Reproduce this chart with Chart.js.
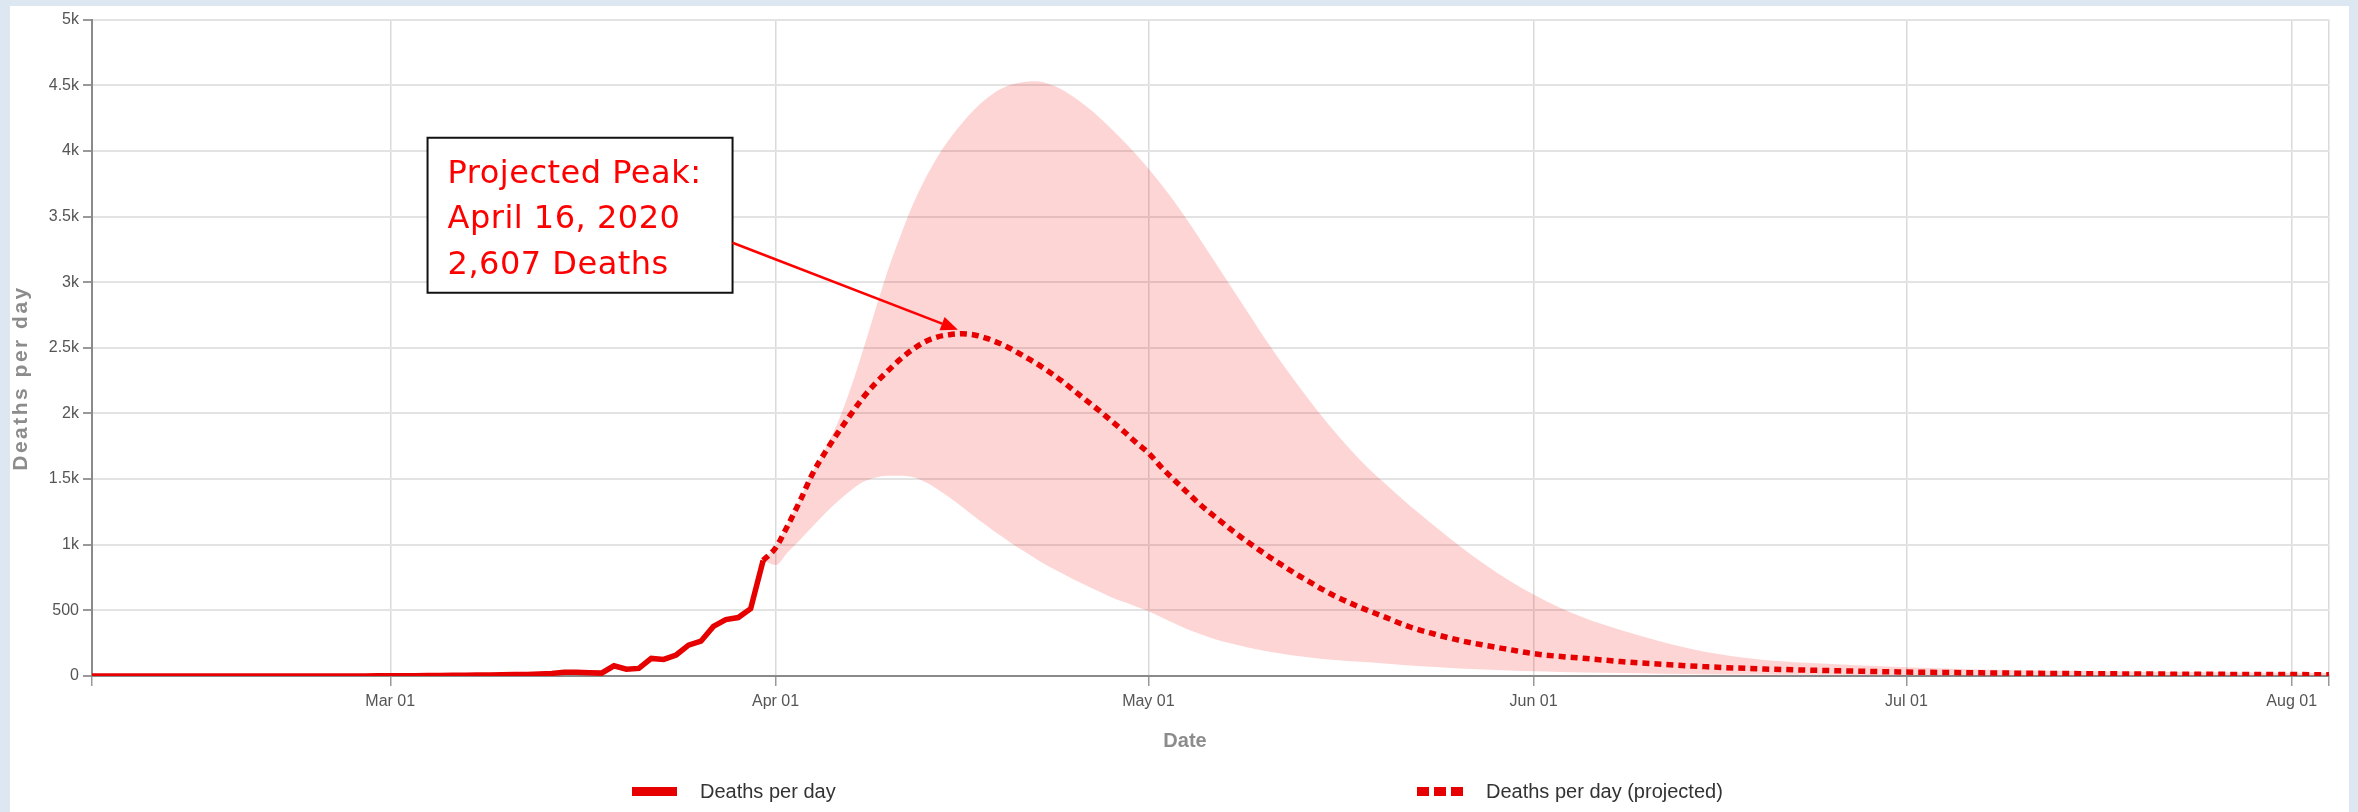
<!DOCTYPE html>
<html>
<head>
<meta charset="utf-8">
<script src="https://cdn.jsdelivr.net/npm/chart.js@4.4.1/dist/chart.umd.min.js"></script>
<style>
  html, body { margin: 0; padding: 0; background: #dde7f2; }
  #panel { position: absolute; left: 10px; top: 6px; width: 2339px; height: 806px; background: #fff; }
  canvas { display: block; }
</style>
</head>
<body>
<div id="panel"><canvas id="chart" width="2339" height="806"></canvas></div>
<script>
// x is days since Feb 06, 2020
const monthTickDays = [0, 24, 55, 85, 116, 146, 177, 180];
const monthTickLabels = ["", "Mar 01", "Apr 01", "May 01", "Jun 01", "Jul 01", "Aug 01", ""];

// observed deaths per day, one value per day starting Feb 06
const obsDeaths = [
  0, 0, 0, 0, 0, 0, 0, 0, 0, 0, 0, 0, 0, 0, 0, 0, 0, 0, 0, 0, 0, 0, 0,
  1, 1, 2, 2, 3, 4, 5, 5, 7, 8, 10, 12, 12, 15, 20, 28, 28, 24, 22,
  78, 52, 58, 134, 126, 160, 235, 265, 378, 430, 445, 513, 880
];

// projection
const projDays = [
  54, 55, 56, 57, 58, 59, 60, 61, 62, 63, 64, 65, 66, 67, 68, 69, 70, 71, 72, 73,
  74, 75, 76, 77, 78, 79, 80, 81, 82, 83, 84, 85, 86, 87, 88, 89, 90, 91, 92, 93,
  94, 95, 96, 97, 98, 99, 100, 102, 104, 106, 108, 110, 112, 114, 116, 118, 120,
  123, 126, 130, 134, 138, 142, 146, 152, 160, 170, 180
];
const projMean = [
  880, 975, 1150, 1340, 1545, 1705, 1850, 1985, 2115, 2225, 2320, 2410, 2485, 2545, 2582, 2600, 2607, 2598, 2572, 2535,
  2490, 2435, 2380, 2318, 2250, 2175, 2100, 2025, 1945, 1865, 1780, 1700, 1595, 1500, 1410, 1320, 1240, 1165, 1090, 1020,
  955, 890, 830, 770, 715, 660, 610, 525, 450, 375, 320, 272, 235, 202, 170, 150, 135,
  110, 91, 70, 55, 45, 37, 30, 24, 18, 13, 10
];
const projUpper = [
  880, 990, 1165, 1355, 1560, 1730, 1930, 2180, 2470, 2780, 3080, 3340, 3580, 3780, 3950, 4090, 4210, 4315, 4400, 4465,
  4505, 4525, 4530, 4510, 4470, 4410, 4340, 4260, 4170, 4075, 3975, 3865, 3750, 3625, 3490, 3350, 3205, 3060, 2915, 2770,
  2625, 2485, 2350, 2220, 2095, 1975, 1860, 1650, 1470, 1300, 1145, 995, 855, 730, 620, 525, 445,
  350, 268, 180, 128, 100, 82, 66, 50, 38, 28, 22
];
const projLower = [
  880, 845, 945, 1040, 1140, 1240, 1330, 1410, 1475, 1510, 1525, 1525, 1515, 1480, 1425, 1360, 1290, 1215, 1145, 1075,
  1010, 950, 890, 835, 785, 735, 690, 645, 600, 565, 530, 494, 450, 405, 362, 325, 292, 262, 240, 218,
  198, 180, 165, 152, 140, 130, 122, 108, 95, 80, 68, 58, 50, 42, 36, 31, 27,
  22, 18, 14, 11, 9, 8, 6, 5, 4, 3, 2
];

const peakDay = 70;
const peakDeaths = 2607;
const noteLines = ["Projected Peak:", "April 16, 2020", "2,607 Deaths"];

const RED = "#e60000";
const PINK = "rgba(250, 0, 0, 0.165)";

const pts = (xs, ys) => ys.map((v, i) => ({ x: xs[i], y: v }));

const peakNote = {
  id: "peakNote",
  afterDatasetsDraw(chart) {
    const { ctx, scales: { x, y } } = chart;
    const left = x.getPixelForValue(27), top = y.getPixelForValue(4100);
    const w = 305, h = 155;
    ctx.save();
    ctx.fillStyle = "#fff";
    ctx.fillRect(left, top, w, h);
    ctx.strokeStyle = "#111";
    ctx.lineWidth = 2;
    ctx.strokeRect(left, top, w, h);
    ctx.fillStyle = "#ff0000";
    ctx.font = '32px "DejaVu Sans"';
    ctx.letterSpacing = "0.5px";
    ctx.textBaseline = "alphabetic";
    noteLines.forEach((t, i) => ctx.fillText(t, left + 20, top + 45 + i * 45.5));

    // arrow to the peak
    const sx = left + w, sy = top + 105;
    const tx = x.getPixelForValue(peakDay) - 4, ty = y.getPixelForValue(peakDeaths) - 4;
    const ang = Math.atan2(ty - sy, tx - sx);
    const hl = 17, hw = 7;
    const bx = tx - hl * Math.cos(ang), by = ty - hl * Math.sin(ang);
    ctx.strokeStyle = "#ff0000";
    ctx.lineWidth = 2.5;
    ctx.beginPath();
    ctx.moveTo(sx, sy);
    ctx.lineTo(bx, by);
    ctx.stroke();
    ctx.beginPath();
    ctx.moveTo(tx, ty);
    ctx.lineTo(bx + hw * Math.sin(ang), by - hw * Math.cos(ang));
    ctx.lineTo(bx - hw * Math.sin(ang), by + hw * Math.cos(ang));
    ctx.closePath();
    ctx.fillStyle = "#ff0000";
    ctx.fill();
    ctx.restore();
  }
};

const titlesAndLegend = {
  id: "titlesAndLegend",
  afterDraw(chart) {
    const { ctx } = chart;
    ctx.save();
    ctx.fillStyle = "#8c8c8c";
    ctx.font = 'bold 20px "Liberation Sans", Arial, sans-serif';
    ctx.textAlign = "center";
    ctx.textBaseline = "middle";
    ctx.fillText("Date", 1175, 735);
    ctx.translate(11, 372);
    ctx.rotate(-Math.PI / 2);
    ctx.font = 'bold 21px "Liberation Sans", Arial, sans-serif';
    ctx.letterSpacing = "2.5px";
    ctx.fillText("Deaths per day", 0, 0);
    ctx.restore();

    // legend
    ctx.save();
    ctx.fillStyle = RED;
    ctx.fillRect(622, 781, 45, 9);
    [1407, 1424, 1441].forEach(px => ctx.fillRect(px, 781, 12, 9));
    ctx.fillStyle = "#333";
    ctx.font = '20px "Liberation Sans", Arial, sans-serif';
    ctx.textBaseline = "middle";
    ctx.fillText(chart.data.datasets[3].label, 690, 786);
    ctx.fillText(chart.data.datasets[2].label, 1476, 786);
    ctx.restore();
  }
};

const tickFont = { family: '"Liberation Sans", Arial, sans-serif', size: 16 };

new Chart(document.getElementById("chart"), {
  type: "line",
  data: {
    datasets: [
      {
        label: "Upper",
        data: pts(projDays, projUpper),
        borderWidth: 0,
        pointRadius: 0,
        backgroundColor: PINK,
        fill: "+1",
        cubicInterpolationMode: "monotone"
      },
      {
        label: "Lower",
        data: pts(projDays, projLower),
        borderWidth: 0,
        pointRadius: 0,
        fill: false,
        cubicInterpolationMode: "monotone"
      },
      {
        label: "Deaths per day (projected)",
        data: pts(projDays, projMean),
        borderColor: RED,
        borderWidth: 5.5,
        borderDash: [7, 5],
        pointRadius: 0,
        fill: false,
        cubicInterpolationMode: "monotone"
      },
      {
        label: "Deaths per day",
        data: obsDeaths.map((v, i) => ({ x: i, y: v })),
        borderColor: RED,
        borderWidth: 5.5,
        pointRadius: 0,
        fill: false,
        tension: 0
      }
    ]
  },
  options: {
    responsive: false,
    animation: false,
    layout: { padding: { top: 11, right: 20, left: 0, bottom: 0 } },
    plugins: {
      legend: { display: false },
      tooltip: { enabled: false },
      filler: { drawTime: "beforeDatasetsDraw" }
    },
    scales: {
      x: {
        type: "linear",
        min: 0,
        max: 180,
        afterBuildTicks: s => { s.ticks = monthTickDays.map(v => ({ value: v })); },
        afterFit: s => { s.height = 136; },
        ticks: {
          autoSkip: false,
          maxRotation: 0,
          padding: 6,
          color: "#555",
          font: tickFont,
          callback: v => monthTickLabels[monthTickDays.indexOf(v)]
        },
        grid: { color: "#dadada", lineWidth: 1.5, tickLength: 10, tickColor: "#999" },
        border: { color: "#8a8a8a", width: 2 }
      },
      y: {
        min: 0,
        max: 5000,
        afterFit: s => { s.width = 82; },
        ticks: {
          stepSize: 500,
          padding: 4,
          color: "#555",
          font: tickFont,
          callback: v => (v >= 1000 ? v / 1000 + "k" : v)
        },
        grid: { color: "#e3e3e3", lineWidth: 2, tickLength: 9, tickColor: "#999" },
        border: { color: "#8a8a8a", width: 2 }
      }
    }
  },
  plugins: [peakNote, titlesAndLegend]
});
</script>
</body>
</html>
